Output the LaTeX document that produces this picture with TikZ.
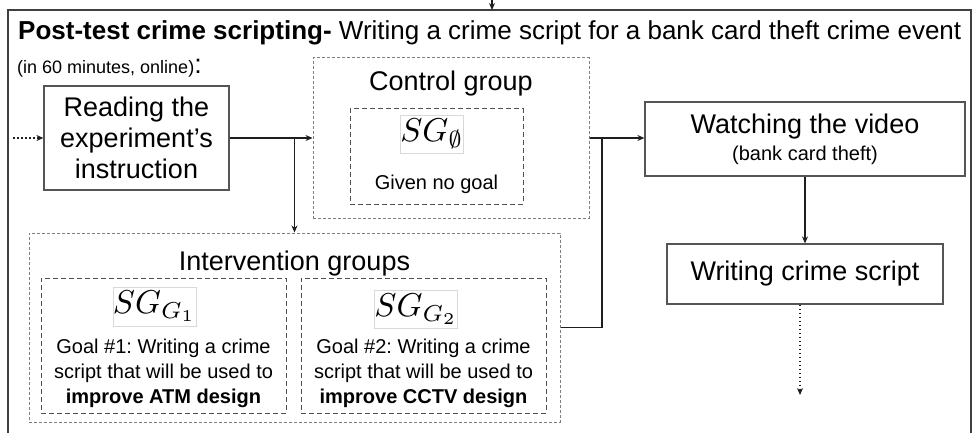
\documentclass[tikz,border=0pt]{standalone}
\usepackage[no-math]{fontspec}
\setmainfont{Liberation Sans}
\usetikzlibrary{arrows.meta}
\definecolor{framegray}{RGB}{64,64,64}
\definecolor{boxgray}{RGB}{85,85,85}
\definecolor{dashgray}{RGB}{125,125,125}
\definecolor{goalgray}{RGB}{80,80,80}
\definecolor{linkblack}{RGB}{30,30,30}
\newcommand{\titletxt}{\fontsize{26}{30}\selectfont}
\newcommand{\bigtxt}{\fontsize{27}{31}\selectfont}
\newcommand{\smalltxt}{\fontsize{20}{25}\selectfont}
\newcommand{\notetxt}{\fontsize{18}{22}\selectfont}
\newcommand{\sgsym}[1]{\scalebox{3.3}{$SG_{#1}$}}
\frenchspacing

\begin{document}
\begin{tikzpicture}[x=1pt,y=-1pt,
  frame/.style={draw=framegray,line width=2pt},
  box/.style={draw=boxgray,line width=1.2pt,inner sep=0pt,align=center,font=\bigtxt},
  groupbox/.style={draw=dashgray,line width=1pt,dash pattern=on 3pt off 2pt,inner sep=0pt},
  goalbox/.style={draw=goalgray,line width=1pt,dash pattern=on 5pt off 3pt,inner sep=0pt},
  formula/.style={draw=gray!30,line width=0.6pt,inner sep=0pt},
  wire/.style={draw=linkblack,line width=1.6pt},
  link/.style={wire,-{Stealth[length=7pt,width=6pt]}},
  feed/.style={link,line width=1.2pt,dash pattern=on 1.5pt off 2.5pt}]
  \useasboundingbox (0,0) rectangle (973,433);
  % Outer frame and the step coming in from above
  \draw[frame] (8,433) |- (971,10) -- (971,433);
  \coordinate (prev) at (492,0);
  \coordinate (frametop) at (492,10);
  \draw[link] (prev) -- (frametop);
  % Heading
  \node[anchor=base west,font=\titletxt,inner sep=0pt] (heading) at (18,40)
    {\textbf{Post-test crime scripting-} Writing a crime script for a bank card theft crime event};
  \node[anchor=base west,inner sep=0pt] (timing) at (17,74) {\notetxt(in 60 minutes, online)\bigtxt:};
  % Reading the instruction
  \node[box,minimum width=185pt,minimum height=104pt] (read) at (136.5,138)
    {Reading the\\experiment’s\\instruction};
  % Control group
  \node[groupbox,minimum width=276pt,minimum height=160pt] (ctrl) at (451,138) {};
  \node[anchor=base,font=\bigtxt] (ctrltitle) at (451,91) {Control group};
  \node[goalbox,minimum width=173pt,minimum height=95pt] (sg0box) at (436.5,156.5) {};
  \node[formula,minimum width=60pt,minimum height=38pt] (sg0) at (432,134) {\sgsym{\emptyset}};
  \node[anchor=base,font=\smalltxt] (nogoal) at (436.5,189) {Given no goal};
  % Intervention groups
  \node[groupbox,minimum width=531pt,minimum height=189pt] (intv) at (294.5,327.5) {};
  \node[anchor=base,font=\bigtxt] (intvtitle) at (294.5,270) {Intervention groups};
  \node[goalbox,minimum width=245pt,minimum height=135pt] (g1box) at (163.5,345.5) {};
  \node[goalbox,minimum width=245pt,minimum height=135pt] (g2box) at (423.5,345.5) {};
  \node[formula,minimum width=77pt,minimum height=39pt] (g1) at (154.5,306.5) {\sgsym{G_1}};
  \node[formula,minimum width=76pt,minimum height=38pt] (g2) at (416,309) {\sgsym{G_2}};
  \node[font=\smalltxt,align=center] (goal1) at (163.5,373)
    {Goal \#1: Writing a crime\\script that will be used to\\\textbf{improve ATM design}};
  \node[font=\smalltxt,align=center] (goal2) at (423.5,373)
    {Goal \#2: Writing a crime\\script that will be used to\\\textbf{improve CCTV design}};
  % Video and writing
  \node[box,minimum width=320pt,minimum height=74pt] (video) at (805,139)
    {Watching the video\\[-4pt]{\smalltxt(bank card theft)}};
  \node[box,minimum width=276pt,minimum height=60pt] (write) at (805,274) {Writing crime script};
  \coordinate (next) at (800,395);
  % Connectors
  \coordinate (feedin) at (13,138);
  \coordinate (bus) at (602,138);
  \draw[feed] (feedin) -- (feedin -| read.west);
  \draw[link] (read.east) -- (read.east -| ctrl.west);
  \draw[link] (read.east -| intv.north) -- (intv.north);
  \draw[link] (ctrl.east) -- (ctrl.east -| video.west);
  \draw[wire] (intv.east) -| (bus);
  \draw[link] (video.south) -- (write.north);
  \draw[feed] (write.south -| next) -- (next);
\end{tikzpicture}
\end{document}
